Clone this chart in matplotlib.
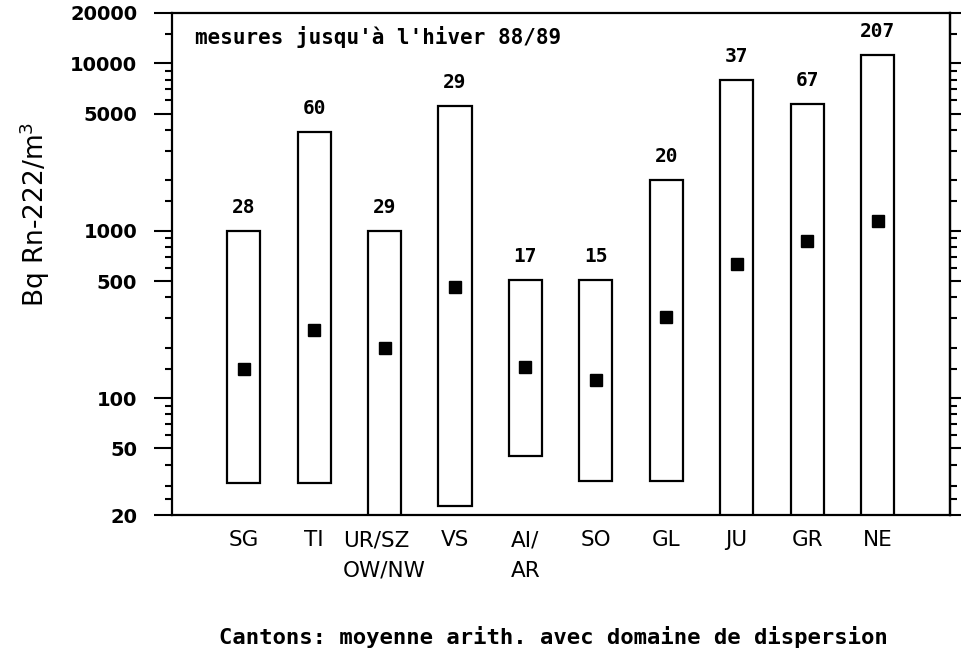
import numpy as np
import matplotlib
matplotlib.use("Agg")
import matplotlib.pyplot as plt

# cantons, measured range (min/max) and arithmetic mean, Bq/m3
cantons = ["SG", "TI", "UR/SZ\nOW/NW", "VS", "AI/\nAR", "SO", "GL", "JU", "GR", "NE"]
low = [31, 31, 19, 22.5, 45, 32, 32, 19, 19, 19]
high = [1000, 3900, 1000, 5600, 510, 510, 2000, 8000, 5700, 11200]
mean = [149, 254, 198, 462, 154, 129, 305, 634, 869, 1150]
counts = [28, 60, 29, 29, 17, 15, 20, 37, 67, 207]

major = [20, 50, 100, 500, 1000, 5000, 10000, 20000]
minor = [25, 30, 40, 60, 70, 80, 90, 150, 200, 300, 400, 600, 700, 800, 900,
         1500, 2000, 3000, 4000, 6000, 7000, 8000, 9000, 15000]

mono = "DejaVu Sans Mono"

fig = plt.figure(figsize=(9.65, 6.53), dpi=100)
ax = fig.add_axes([0.1782, 0.2113, 0.8063, 0.7688])

x = np.arange(len(cantons))
width = 0.47
# floating boxes = dispersion range
ax.bar(x, np.array(high) - np.array(low), bottom=low, width=width,
       facecolor="white", edgecolor="black", linewidth=1.6, zorder=2)
ax.plot(x, mean, "s", color="black", markersize=8, zorder=3)

for xi, top, n in zip(x, high, counts):
    ax.annotate(str(n), (xi, top), xytext=(0, 10), textcoords="offset points",
                ha="center", va="bottom", fontsize=14, fontweight="bold",
                family=mono)

ax.set_yscale("log")
ax.set_ylim(20, 20000)
ax.set_xlim(-1.02, 10.03)

ax.set_yticks(major)
ax.set_yticklabels([str(v) for v in major], fontsize=14, fontweight="bold")
ax.set_yticks(minor, minor=True)
ax.yaxis.set_minor_formatter(plt.NullFormatter())
ax.tick_params(axis="y", which="major", direction="out", length=13, width=1.5, pad=12)
ax.tick_params(axis="y", which="minor", direction="out", length=5, width=1.5)

ax.set_xticks(x)
ax.set_xticklabels(cantons, fontsize=15.5, linespacing=1.65,
                   multialignment="left", va="top")
ax.tick_params(axis="x", length=0, pad=11)

# ticks on the right side as well, shorter
sec = ax.secondary_yaxis("right")
sec.set_yticks(major)
sec.set_yticks(minor, minor=True)
sec.tick_params(which="major", length=8, width=1.5, labelright=False)
sec.tick_params(which="minor", length=5, width=1.5)
sec.yaxis.set_minor_formatter(plt.NullFormatter())
sec.spines["right"].set_linewidth(1.6)

for s in ax.spines.values():
    s.set_linewidth(1.6)

ax.text(0.03, 0.952, "mesures jusqu'à l'hiver 88/89", transform=ax.transAxes,
        ha="left", va="center", fontsize=15, fontweight="bold", family=mono)

fig.text(0.036, 0.672, "Bq Rn-222/m$^3$", rotation=90, ha="center", va="center",
         fontsize=19)

fig.text(0.573, 0.025, "Cantons: moyenne arith. avec domaine de dispersion",
         ha="center", va="center", fontsize=16, fontweight="bold", family=mono)

fig.savefig("out.png", dpi=100, facecolor="white")
